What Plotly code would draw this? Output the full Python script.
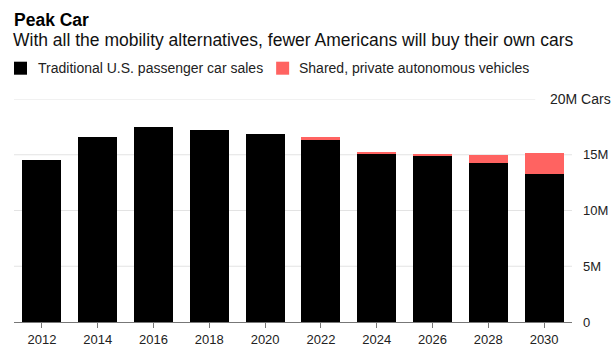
import plotly.graph_objects as go

# Annual US passenger car sales, millions (traditional vs. shared/private autonomous)
years = ["2012", "2014", "2016", "2018", "2020", "2022", "2024", "2026", "2028", "2030"]
traditional = [14.5, 16.55, 17.5, 17.2, 16.9, 16.4, 15.1, 14.85, 14.3, 13.3]
autonomous = [0.0, 0.0, 0.0, 0.0, 0.0, 0.15, 0.1, 0.25, 0.7, 1.85]

y_ticks = [0, 5, 10, 15, 20]
y_tick_labels = ["0", "5M", "10M", "15M", "20M Cars"]

BLACK = "#000000"
RED = "#ff6361"
FONT = "Liberation Sans, Arial, Helvetica, sans-serif"

W, H = 612, 350
L, R, T, B = 14, 40.3, 99.3, 27.7
PW, PH = W - L - R, H - T - B


def px(x):
    return (x - L) / PW


def py(y):
    return (H - B - y) / PH


fig = go.Figure()
fig.add_trace(go.Bar(x=years, y=traditional, marker=dict(color=BLACK, line=dict(width=0)),
                     name="Traditional U.S. passenger car sales", showlegend=False))
fig.add_trace(go.Bar(x=years, y=autonomous, marker=dict(color=RED, line=dict(width=0)),
                     name="Shared, private autonomous vehicles", showlegend=False))

shapes = []
annotations = []

# horizontal gridlines; the top one stops short of its unit label
for v in y_ticks[1:]:
    x_end = px(535) if v == y_ticks[-1] else 1
    shapes.append(dict(type="line", xref="paper", yref="y", x0=0, x1=x_end, y0=v, y1=v,
                       line=dict(color="#e3e3e3", width=1), layer="below"))

# right-hand value labels
for v, lab in zip(y_ticks, y_tick_labels):
    annotations.append(dict(xref="paper", yref="y", x=px(581) if v != y_ticks[-1] else px(548),
                            y=v, text=lab, showarrow=False, xanchor="left", yanchor="middle",
                            font=dict(family=FONT, size=13 if v != y_ticks[-1] else 14, color="#222")))

# title and subtitle
annotations.append(dict(xref="paper", yref="paper", x=px(12), y=py(20.5), text="<b>Peak Car</b>",
                        showarrow=False, xanchor="left", yanchor="middle",
                        font=dict(family=FONT, size=17.5, color="#000")))
annotations.append(dict(xref="paper", yref="paper", x=px(11.5), y=py(40),
                        text="With all the mobility alternatives, fewer Americans will buy their own cars",
                        showarrow=False, xanchor="left", yanchor="middle",
                        font=dict(family=FONT, size=17.5, color="#111")))

# legend swatches and labels
legend_items = [("Traditional U.S. passenger car sales", BLACK, 14, 36),
                ("Shared, private autonomous vehicles", RED, 276, 297)]
for text, color, sx, tx in legend_items:
    shapes.append(dict(type="rect", xref="paper", yref="paper", x0=px(sx), x1=px(sx + 13),
                       y0=py(62), y1=py(75), fillcolor=color, line=dict(width=0)))
    annotations.append(dict(xref="paper", yref="paper", x=px(tx), y=py(68.8), text=text,
                            showarrow=False, xanchor="left", yanchor="middle",
                            font=dict(family=FONT, size=14, color="#222")))

fig.update_layout(
    width=W, height=H,
    margin=dict(l=L, r=R, t=T, b=B, pad=0, autoexpand=False),
    barmode="stack", bargap=0.3,
    plot_bgcolor="white", paper_bgcolor="white",
    shapes=shapes, annotations=annotations,
    showlegend=False,
    xaxis=dict(showline=True, linecolor="#777", linewidth=1, ticks="outside", ticklen=5,
               tickcolor="#777", tickwidth=1, showgrid=False, zeroline=False, automargin=False,
               tickfont=dict(family=FONT, size=13, color="#222"), fixedrange=True),
    yaxis=dict(range=[0, 20], showgrid=False, zeroline=False, showticklabels=False,
               showline=False, automargin=False, fixedrange=True),
)

fig.write_html("out.html", config={"displayModeBar": False})
